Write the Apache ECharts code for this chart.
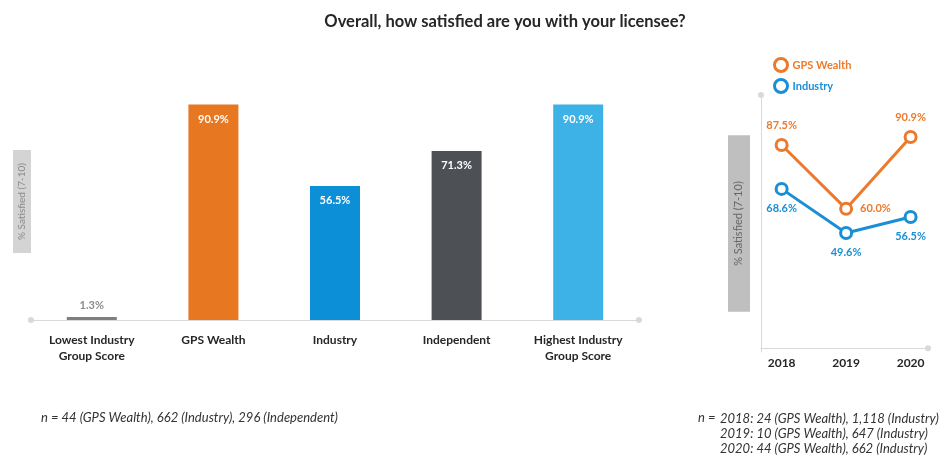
<!DOCTYPE html>
<html>
<head>
<meta charset="utf-8">
<script src="https://cdn.jsdelivr.net/npm/echarts@6/dist/echarts.min.js"></script>
<style>
  html, body { margin: 0; padding: 0; background: #fff; }
  #chart { width: 952px; height: 455px; }
</style>
</head>
<body>
<div id="chart"></div>
<script>
// bar chart data
const barCategories = ["Lowest Industry\nGroup Score", "GPS Wealth", "Industry", "Independent", "Highest Industry\nGroup Score"];
const barValues = [1.3, 90.9, 56.5, 71.3, 90.9];
const barColors = ["#7f7f7f", "#e87722", "#0d8fd8", "#4d5155", "#3db2e6"];

// trend chart data
const years = [2018, 2019, 2020];
const gpsTrend = [87.5, 60.0, 90.9];
const industryTrend = [68.6, 49.6, 56.5];
const gpsLabelPos = ["top", "right", "top"];
const industryLabelPos = ["bottom", "bottom", "bottom"];

const FONT = "Lato, 'Noto Sans', sans-serif";
const ORANGE = "#ec7a2c";
const BLUE = "#1a8fd6";

const chart = echarts.init(document.getElementById("chart"));

const option = {
  backgroundColor: "#fff",
  textStyle: { fontFamily: FONT },
  title: {
    text: "Overall, how satisfied are you with your licensee?",
    left: 500,
    textAlign: "center",
    top: 8,
    textStyle: { fontFamily: FONT, fontSize: 16.5, fontWeight: "bold", color: "#262626" },
  },
  legend: {
    orient: "vertical",
    left: 768,
    top: 52,
    itemGap: 5,
    itemWidth: 13,
    itemHeight: 13,
    icon: "circle",
    data: [
      {
        name: "GPS Wealth",
        textStyle: { color: ORANGE },
        itemStyle: { color: "#fff", borderColor: ORANGE, borderWidth: 3 },
      },
      {
        name: "Industry",
        textStyle: { color: BLUE },
        itemStyle: { color: "#fff", borderColor: BLUE, borderWidth: 3 },
      },
    ],
    textStyle: { fontFamily: FONT, fontSize: 11, fontWeight: "bold" },
  },
  grid: [
    { left: 31, right: 313, top: 83, bottom: 135 },
    { left: 761, right: 24, top: 95, bottom: 103 },
  ],
  xAxis: [
    {
      gridIndex: 0,
      type: "category",
      data: barCategories,
      axisLine: {
        lineStyle: { color: "#d9d9d9", width: 1 },
        symbol: ["circle", "circle"],
        symbolSize: [6, 6],
      },
      axisTick: { show: false },
      axisLabel: {
        color: "#262626",
        fontFamily: FONT,
        fontSize: 12,
        fontWeight: "bold",
        lineHeight: 16,
        margin: 12,
      },
    },
    {
      gridIndex: 1,
      type: "value",
      min: 2017.68,
      max: 2020.27,
      splitLine: { show: false },
      axisLine: {
        lineStyle: { color: "#d9d9d9", width: 1 },
        symbol: ["none", "circle"],
        symbolSize: [6, 6],
      },
      axisTick: { show: false },
      axisLabel: {
        customValues: years,
        formatter: (v) => String(v),
        color: "#262626",
        fontFamily: FONT,
        fontSize: 12,
        fontWeight: "bold",
        margin: 5,
      },
    },
  ],
  yAxis: [
    {
      gridIndex: 0,
      type: "value",
      min: 0,
      max: 100,
      show: true,
      axisLine: { show: false },
      axisTick: { show: false },
      axisLabel: { show: false },
      splitLine: { show: false },
      name: "% Satisfied (7-10)",
      nameLocation: "middle",
      nameRotate: 90,
      nameGap: 0,
      nameTextStyle: {
        fontFamily: FONT,
        fontSize: 10,
        color: "#8a8a8a",
        backgroundColor: "#d4d4d4",
        padding: [4, 13, 4, 13],
      },
    },
    {
      gridIndex: 1,
      type: "value",
      min: -1.6,
      max: 109,
      axisLine: {
        show: true,
        lineStyle: { color: "#d9d9d9", width: 1 },
        symbol: ["none", "circle"],
        symbolSize: [6, 6],
      },
      axisTick: { show: false },
      axisLabel: { show: false },
      splitLine: { show: false },
      name: "% Satisfied (7-10)",
      nameLocation: "middle",
      nameRotate: 90,
      nameGap: 11,
      nameTextStyle: {
        fontFamily: FONT,
        fontSize: 11,
        color: "#666",
        backgroundColor: "#bfbfbf",
        padding: [5, 46, 6, 46],
      },
    },
  ],
  series: [
    {
      type: "bar",
      xAxisIndex: 0,
      yAxisIndex: 0,
      barWidth: 50,
      data: barValues.map((v, i) => ({
        value: v,
        itemStyle: { color: barColors[i] },
        label: i === 0
          ? { position: "top", color: "#8c8c8c", distance: 6 }
          : { position: "insideTop", color: "#fff", distance: 9 },
      })),
      label: {
        show: true,
        formatter: (p) => p.value.toFixed(1) + "%",
        fontFamily: FONT,
        fontSize: 11,
        fontWeight: "bold",
      },
    },
    {
      name: "GPS Wealth",
      type: "line",
      xAxisIndex: 1,
      yAxisIndex: 1,
      data: years.map((y, i) => ({
        value: [y, gpsTrend[i]],
        label: { position: gpsLabelPos[i] },
      })),
      symbol: "circle",
      symbolSize: 11,
      itemStyle: { color: "#fff", borderColor: ORANGE, borderWidth: 3 },
      lineStyle: { color: ORANGE, width: 3 },
      label: {
        show: true,
        formatter: (p) => p.value[1].toFixed(1) + "%",
        color: ORANGE,
        fontFamily: FONT,
        fontSize: 11,
        fontWeight: "bold",
        distance: 7,
      },
    },
    {
      name: "Industry",
      type: "line",
      xAxisIndex: 1,
      yAxisIndex: 1,
      data: years.map((y, i) => ({
        value: [y, industryTrend[i]],
        label: { position: industryLabelPos[i] },
      })),
      symbol: "circle",
      symbolSize: 11,
      itemStyle: { color: "#fff", borderColor: BLUE, borderWidth: 3 },
      lineStyle: { color: BLUE, width: 3 },
      label: {
        show: true,
        formatter: (p) => p.value[1].toFixed(1) + "%",
        color: BLUE,
        fontFamily: FONT,
        fontSize: 11,
        fontWeight: "bold",
        distance: 7,
      },
    },
  ],
  graphic: [
    {
      type: "text",
      left: 41,
      top: 411,
      style: {
        text: "n = 44 (GPS Wealth), 662 (Industry), 296 (Independent)",
        font: "italic 13px " + FONT,
        fill: "#333",
      },
    },
    {
      type: "text",
      left: 698,
      top: 411,
      style: {
        text: "n =",
        font: "italic 13px " + FONT,
        fill: "#333",
      },
    },
    {
      type: "text",
      left: 720,
      top: 411,
      style: {
        text: "2018: 24 (GPS Wealth), 1,118 (Industry)\n2019: 10 (GPS Wealth), 647 (Industry)\n2020: 44 (GPS Wealth), 662 (Industry)",
        font: "italic 13px " + FONT,
        lineHeight: 15,
        fill: "#333",
      },
    },
  ],
};

chart.setOption(option);
window.addEventListener("resize", () => chart.resize());
</script>
</body>
</html>
